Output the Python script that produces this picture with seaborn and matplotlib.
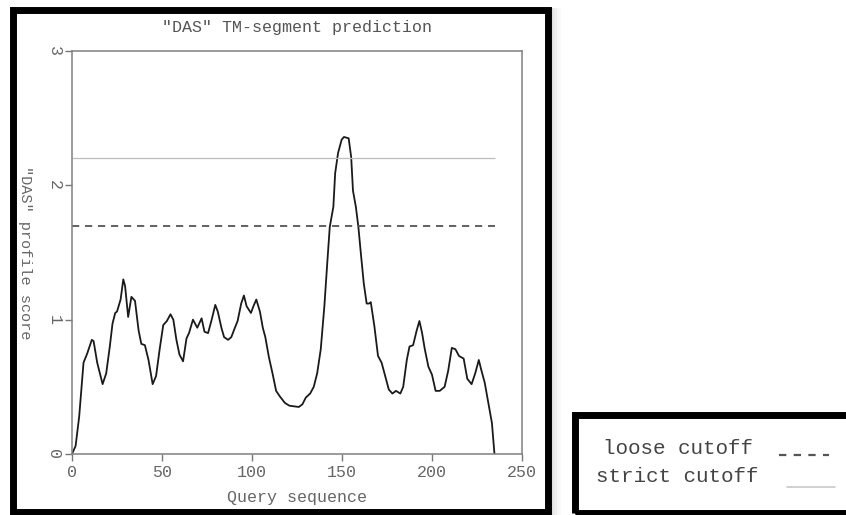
import matplotlib
matplotlib.use("Agg")
import matplotlib.pyplot as plt
from matplotlib.patches import Rectangle
from matplotlib.lines import Line2D
import seaborn as sns
import pandas as pd

# DAS profile score along the query sequence
position = [0, 2, 4, 6.4, 8.5, 11, 12, 14, 17, 19, 21, 22.5, 24, 25, 27, 28.5, 29.5,
            31.2, 33, 35, 37, 38.5, 40.5, 42.5, 44.8, 46.7, 48.7, 50.7, 52.7, 54.7,
            56.3, 58, 59.7, 61.7, 63.6, 65, 67.2, 69.6, 72, 73.6, 75.6, 77.6, 79.6,
            81, 83, 84.5, 86.7, 88.5, 90.5, 92, 94, 95.5, 97, 99.4, 100.8, 102.4,
            104.4, 106, 107.4, 109.4, 111.4, 113.4, 115.4, 118.3, 120.7, 123.3, 126,
            128, 129.9, 132.3, 134.3, 136.2, 138.2, 140.2, 141.8, 143.2, 145.2, 146.2,
            147.8, 149.8, 151.1, 153.7, 155.1, 156.1, 157.7, 159.1, 160.5, 162.1,
            163.7, 165, 166, 168, 170, 172, 174, 176, 178, 180, 182.4, 184, 186,
            187.5, 189.5, 191.5, 193, 194.5, 196, 198, 200, 202, 204.3, 207, 209,
            211, 213, 215, 217.6, 219.6, 222, 224, 226, 227.3, 229.3, 231.3, 233.3,
            234.7]
score = [0.0, 0.06, 0.28, 0.68, 0.75, 0.85, 0.84, 0.68, 0.52, 0.6, 0.8, 0.97, 1.05,
         1.06, 1.15, 1.3, 1.25, 1.02, 1.17, 1.14, 0.92, 0.82, 0.81, 0.7, 0.52, 0.58,
         0.78, 0.96, 0.99, 1.04, 1.0, 0.85, 0.74, 0.69, 0.86, 0.9, 1.0, 0.94, 1.01,
         0.91, 0.9, 1.0, 1.11, 1.06, 0.94, 0.87, 0.85, 0.87, 0.94, 0.99, 1.12, 1.18,
         1.1, 1.05, 1.1, 1.15, 1.06, 0.94, 0.87, 0.72, 0.6, 0.47, 0.43, 0.38, 0.36,
         0.355, 0.35, 0.37, 0.42, 0.45, 0.5, 0.6, 0.78, 1.1, 1.42, 1.69, 1.84, 2.09,
         2.24, 2.34, 2.36, 2.35, 2.21, 1.96, 1.84, 1.69, 1.49, 1.27, 1.12, 1.12, 1.13,
         0.95, 0.73, 0.68, 0.58, 0.48, 0.45, 0.47, 0.45, 0.5, 0.7, 0.8, 0.81, 0.92,
         0.99, 0.9, 0.78, 0.65, 0.59, 0.47, 0.47, 0.5, 0.62, 0.79, 0.78, 0.73, 0.71,
         0.56, 0.52, 0.6, 0.7, 0.63, 0.53, 0.38, 0.23, 0.0]

loose_cutoff = 1.7
strict_cutoff = 2.2
cutoff_end = 235

x_ticks = [0, 50, 100, 150, 200, 250]
y_ticks = [0, 1, 2, 3]

sns.set_style("white")
plt.rcParams["font.family"] = ["Liberation Mono", "DejaVu Sans Mono"]

W, H = 846, 515
fig = plt.figure(figsize=(W / 100, H / 100), dpi=100)


def fx(px):
    return px / W


def fy(py):
    return 1 - py / H


ax = fig.add_axes([fx(72), fy(454), fx(522) - fx(72), fy(51) - fy(454)])

df = pd.DataFrame({"position": position, "score": score})
sns.lineplot(data=df, x="position", y="score", ax=ax, color="#1a1a1a",
             linewidth=1.3, sort=False)

# cutoff levels
ax.hlines(strict_cutoff, 0, cutoff_end, color="#bdbdbd", linewidth=0.9)
ax.hlines(loose_cutoff, 0, cutoff_end, color="#555555", linewidth=1.3,
          linestyles=(0, (4, 3.2)))

ax.set_xlim(0, 250)
ax.set_ylim(0, 3)
ax.set_xticks(x_ticks)
ax.set_yticks(y_ticks)

text_color = "#666666"
ax.tick_params(axis="both", direction="out", length=5, width=1.0,
               color="#777777", labelcolor=text_color, labelsize=12, pad=3,
               left=True, bottom=True)
for lbl in ax.get_yticklabels():
    lbl.set_rotation(-90)
    lbl.set_va("center")
    lbl.set_ha("center")
ax.tick_params(axis="y", pad=8)

for sp in ax.spines.values():
    sp.set_color("#808080")
    sp.set_linewidth(1.1)

ax.set_xlabel("Query sequence", fontsize=12, color=text_color)
ax.set_ylabel('"DAS" profile score', fontsize=11, color=text_color,
              rotation=-90)
ax.xaxis.set_label_coords(0.5, -0.09)
ax.yaxis.set_label_coords(-0.121, 0.5)
ax.set_title('"DAS" TM-segment prediction', fontsize=12, color="#555555",
             pad=14)

# soft shadow to the right of the chart frame
for i, a in enumerate([0.25, 0.18, 0.12, 0.07, 0.04]):
    fig.patches.append(Rectangle((fx(551 + i * 2), fy(515)), 2 / W, (515 - 8) / H,
                                 transform=fig.transFigure, facecolor="#808080",
                                 edgecolor="none", alpha=a, zorder=0))

# heavy frame around the chart
fig.patches.append(Rectangle((fx(12.5), fy(511.5)), (547.5 - 12.5) / W,
                             (511.5 - 10) / H, transform=fig.transFigure,
                             fill=False, edgecolor="black", linewidth=5.0,
                             zorder=5))

# key panel
fig.patches.append(Rectangle((fx(575), fy(513)), (860 - 575) / W, (513 - 415) / H,
                             transform=fig.transFigure, fill=False,
                             edgecolor="black", linewidth=5.0, zorder=5))
fig.text(fx(603), fy(449), "loose cutoff", fontsize=15, color="#444444",
         va="center", ha="left")
fig.text(fx(596), fy(477), "strict cutoff", fontsize=15, color="#444444",
         va="center", ha="left")
fig.lines.append(Line2D([fx(779), fx(829)], [fy(455), fy(455)],
                        transform=fig.transFigure, color="#555555",
                        linewidth=1.6, linestyle=(0, (3.3, 3.3))))
fig.lines.append(Line2D([fx(787), fx(835)], [fy(487), fy(487)],
                        transform=fig.transFigure, color="#c8c8c8",
                        linewidth=1.2))

fig.savefig("out.png", dpi=100)
